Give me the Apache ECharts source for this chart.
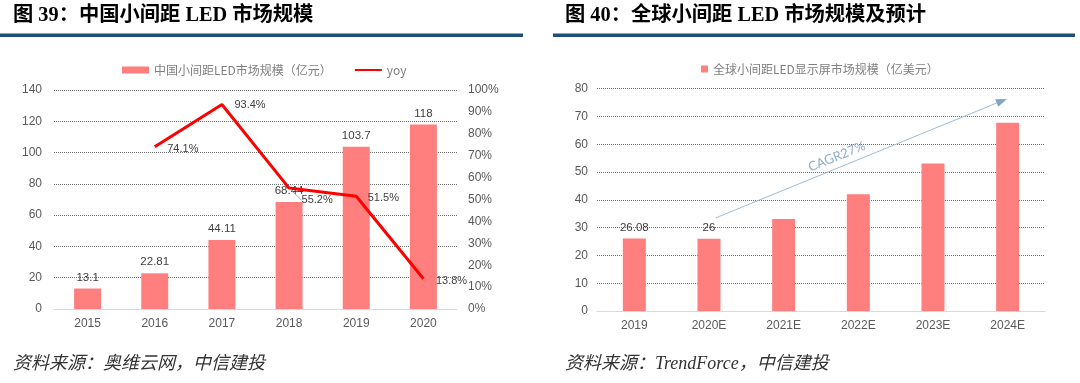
<!DOCTYPE html>
<html><head><meta charset="utf-8">
<script src="https://cdn.jsdelivr.net/npm/echarts@6/dist/echarts.min.js"></script>
<style>html,body{margin:0;padding:0;background:#fff}#c{width:1080px;height:383px}</style>
</head><body><div id="c"></div>
<script>
// ---------- data ----------
const years1 = ['2015', '2016', '2017', '2018', '2019', '2020'];
const market1 = [13.1, 22.81, 44.11, 68.44, 103.7, 118];
const yoy1 = [null, 74.1, 93.4, 55.2, 51.5, 13.8];
const years2 = ['2019', '2020E', '2021E', '2022E', '2023E', '2024E'];
const market2 = [26.08, 26, 33.1, 42, 53.1, 67.7];
const name1 = '中国小间距LED市场规模（亿元）';
const name2 = 'yoy';
const name3 = '全球小间距LED显示屏市场规模（亿美元）';
const title1 = '图 39：中国小间距 LED 市场规模';
const title2 = '图 40：全球小间距 LED 市场规模及预计';
const source1 = '资料来源：奥维云网，中信建投';
const source2 = '资料来源：TrendForce，中信建投';
const cagrText = 'CAGR27%';
// CAGR arrow in data space of right chart: [category index, value]
const cagrFrom = [1.09, 33.5];
const cagrTo = [4.99, 76.3];

// ---------- styles ----------
const barColor = '#FF7F7F';
const axisLabelStyle = { color: '#595959', fontSize: 12, fontFamily: 'Liberation Sans, Arial, sans-serif' };
const gridLine = { show: true, lineStyle: { color: '#6e6e6e', type: [1, 1], width: 1 } };
const yoyLabelOffsets = [[0, 0], [0, 2], [0, 1], [0, 12], [-1, 2], [0, 2]];
const labeledIdx2 = [0, 1];

const chart = echarts.init(document.getElementById('c'), null, { renderer: 'canvas' });

const option = {
  animation: false,
  backgroundColor: '#ffffff',
  grid: [
    { left: 54, right: 623, top: 90, bottom: 74 },
    { left: 597, right: 35, top: 88.6, bottom: 72 }
  ],
  legend: [
    {
      data: [{ name: name1, icon: 'rect' }, { name: name2 }],
      left: 117, top: 59, itemWidth: 27, itemHeight: 7, itemGap: 22,
      textStyle: { color: '#7f7f7f', fontSize: 12, fontFamily: 'Noto Sans CJK SC' }
    },
    {
      data: [{ name: name3, icon: 'rect' }],
      left: 696, top: 58, itemWidth: 7, itemHeight: 7,
      textStyle: { color: '#7f7f7f', fontSize: 12, fontFamily: 'Noto Sans CJK SC' }
    }
  ],
  xAxis: [
    {
      type: 'category', gridIndex: 0, data: years1,
      axisTick: { show: false },
      axisLine: { lineStyle: { color: '#d9d9d9', width: 1 } },
      axisLabel: Object.assign({ margin: 9 }, axisLabelStyle)
    },
    {
      type: 'category', gridIndex: 1, data: years2,
      axisTick: { show: false },
      axisLine: { lineStyle: { color: '#d9d9d9', width: 1 } },
      axisLabel: Object.assign({ margin: 9 }, axisLabelStyle)
    }
  ],
  yAxis: [
    {
      type: 'value', gridIndex: 0, min: 0, max: 140, interval: 20,
      axisLine: { show: false }, axisTick: { show: false },
      axisLabel: Object.assign({ margin: 12 }, axisLabelStyle),
      splitLine: gridLine
    },
    {
      type: 'value', gridIndex: 0, position: 'right', min: 0, max: 100, interval: 10,
      axisLine: { show: false }, axisTick: { show: false },
      axisLabel: Object.assign({ margin: 11, formatter: '{value}%' }, axisLabelStyle),
      splitLine: { show: false }
    },
    {
      type: 'value', gridIndex: 1, min: 0, max: 80, interval: 10,
      axisLine: { show: false }, axisTick: { show: false },
      axisLabel: Object.assign({ margin: 9 }, axisLabelStyle),
      splitLine: gridLine
    }
  ],
  series: [
    {
      name: name1, type: 'bar', xAxisIndex: 0, yAxisIndex: 0,
      data: market1, barWidth: 27,
      itemStyle: { color: barColor },
      label: { show: true, position: 'top', distance: 5, color: '#404040', fontSize: 11.5, fontFamily: 'Liberation Sans, Arial' }
    },
    {
      name: name2, type: 'line', xAxisIndex: 0, yAxisIndex: 1,
      data: yoy1.map((v, i) => ({
        value: v,
        label: { offset: yoyLabelOffsets[i] },
        labelLine: i === 3 ? { show: true, lineStyle: { color: '#a6a6a6', width: 1 } } : undefined
      })),
      symbol: 'circle', symbolSize: 2, showSymbol: true, connectNulls: false,
      lineStyle: { color: '#FF0000', width: 3 },
      itemStyle: { color: 'rgba(255,0,0,0)' },
      label: {
        show: true, position: 'right', distance: 11.5,
        color: '#404040', fontSize: 11, fontFamily: 'Liberation Sans, Arial',
        formatter: p => p.value == null ? '' : p.value.toFixed(1) + '%'
      },
      z: 5
    },
    {
      name: name3, type: 'bar', xAxisIndex: 1, yAxisIndex: 2,
      data: market2.map((v, i) => ({ value: v, label: { show: labeledIdx2.indexOf(i) >= 0 } })),
      barWidth: 23,
      itemStyle: { color: barColor },
      label: { show: false, position: 'top', distance: 5, color: '#404040', fontSize: 11.5, fontFamily: 'Liberation Sans, Arial' }
    }
  ]
};
chart.setOption(option);

// ---------- annotations (titles, rules, sources, CAGR arrow) ----------
function px(pt) {
  const i0 = Math.floor(pt[0]);
  const p0 = chart.convertToPixel({ gridIndex: 1 }, [i0, pt[1]]);
  const p1 = chart.convertToPixel({ gridIndex: 1 }, [i0 + 1, pt[1]]);
  return [p0[0] + (p1[0] - p0[0]) * (pt[0] - i0), p0[1]];
}
const a = px(cagrFrom), b = px(cagrTo);
const ang = Math.atan2(b[1] - a[1], b[0] - a[0]);
const headLen = 11, headW = 4;
const base = [b[0] - headLen * Math.cos(ang), b[1] - headLen * Math.sin(ang)];
const nx = -Math.sin(ang), ny = Math.cos(ang);
const tPos = [a[0] + (b[0] - a[0]) * 0.43 - nx * 11, a[1] + (b[1] - a[1]) * 0.43 - ny * 11];

const titleFont = { fontSize: 20.3, fontWeight: 'bold', fontFamily: "'Liberation Serif', 'Noto Sans CJK SC', serif", fill: '#000' };
const srcFont = { fontSize: 18, fontStyle: 'italic', fontFamily: "'Liberation Serif', 'Noto Sans CJK SC', serif", fill: '#333' };

chart.setOption({
  graphic: [
    { type: 'text', left: 13, top: 6, style: Object.assign({ text: title1 }, titleFont) },
    { type: 'text', left: 565, top: 6, style: Object.assign({ text: title2 }, titleFont) },
    { type: 'rect', shape: { x: 0, y: 33.5, width: 523, height: 3.5 }, style: { fill: '#1F4E79' } },
    { type: 'rect', shape: { x: 553, y: 33.5, width: 522, height: 3.5 }, style: { fill: '#1F4E79' } },
    { type: 'text', left: 13, top: 355, style: Object.assign({ text: source1 }, srcFont) },
    { type: 'text', left: 565, top: 355, style: Object.assign({ text: source2 }, srcFont) },
    { type: 'line', shape: { x1: a[0], y1: a[1], x2: base[0], y2: base[1] }, style: { stroke: '#9DBCD4', lineWidth: 1 }, z: 10 },
    { type: 'polygon', shape: { points: [b, [base[0] + nx * headW, base[1] + ny * headW], [base[0] - nx * headW, base[1] - ny * headW]] }, style: { fill: '#7FA3C2' }, z: 10 },
    { type: 'text', x: tPos[0], y: tPos[1], rotation: -ang,
      style: { text: cagrText, fill: '#8EAECB', fontSize: 13, fontFamily: 'Lato, "Open Sans", sans-serif', align: 'center', verticalAlign: 'middle' }, z: 10 }
  ]
});
</script></body></html>
